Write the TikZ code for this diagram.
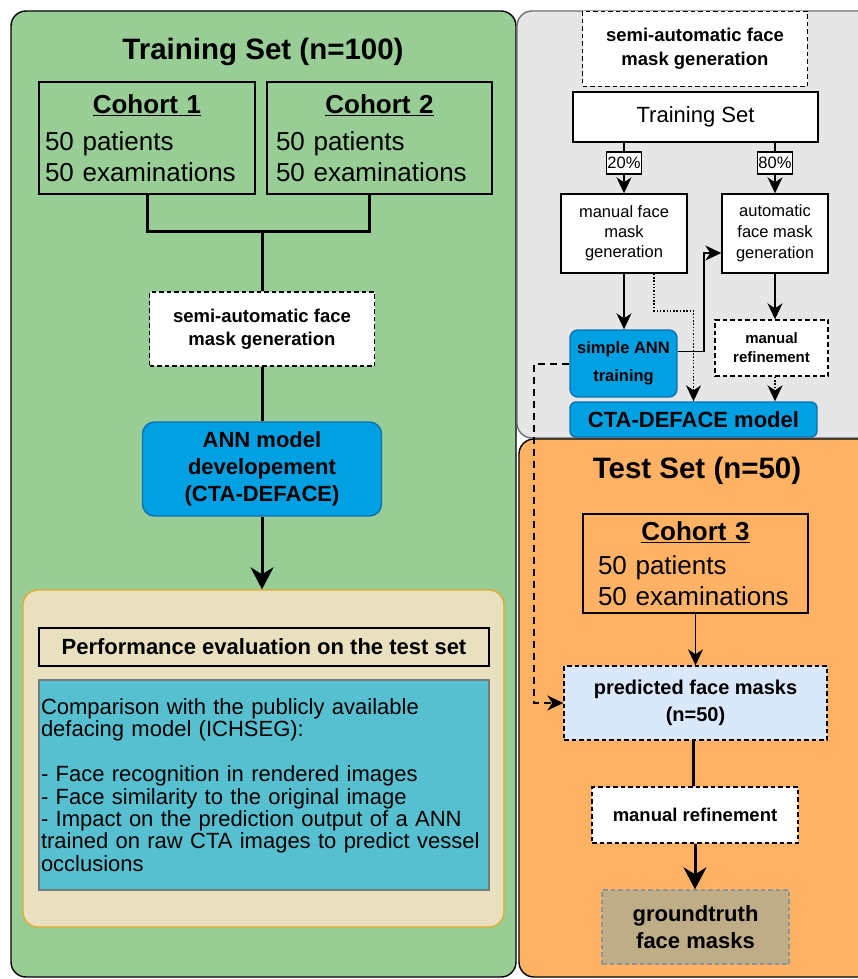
\documentclass[tikz,border=0pt]{standalone}
\usepackage{fontspec}
\setmainfont{Liberation Sans}
\usetikzlibrary{arrows.meta,positioning,calc}
\definecolor{meadow}{RGB}{152,206,150}
\definecolor{apricot}{RGB}{255,178,100}
\definecolor{mist}{RGB}{230,230,230}
\definecolor{ash}{RGB}{110,110,110}
\definecolor{azure}{RGB}{0,160,226}
\definecolor{deepazure}{RGB}{16,112,176}
\definecolor{sand}{RGB}{232,224,190}
\definecolor{gold}{RGB}{226,170,40}
\definecolor{lagoon}{RGB}{86,192,208}
\definecolor{slate}{RGB}{110,128,128}
\definecolor{ice}{RGB}{218,232,252}
\definecolor{khaki}{RGB}{191,173,135}
\definecolor{pebble}{RGB}{140,150,150}
\newcommand{\fsz}[2]{\fontsize{#1}{#2}\selectfont}
\tikzset{
  panel/.style={draw=#1,line width=1.4pt,rounded corners=15pt},
  panel/.default=black,
  plain box/.style={draw=black,line width=1.4pt,fill=#1,align=center,inner sep=0pt},
  plain box/.default=white,
  dash box/.style={draw=#1,line width=1.4pt,dash pattern=on 4.5pt off 3pt,fill=white,
    align=center,inner sep=0pt},
  dash box/.default=black,
  ann box/.style={draw=deepazure,line width=1.4pt,fill=azure,rounded corners=12pt,
    align=center,inner sep=0pt},
  cohort/.style={draw=black,line width=1.4pt,align=left,inner ysep=0pt,
    minimum height=112pt,font=\fsz{26}{31}},
  pct/.style={draw=black,line width=1.2pt,fill=white,inner sep=1pt,
    minimum height=22pt,font=\fsz{16.5}{18}},
  title/.style={anchor=base,font=\fsz{29.5}{34}\bfseries},
  flow/.style={-{Stealth[length=16pt,width=15pt,inset=5pt]},line width=1.6pt},
  dot flow/.style={flow,dash pattern=on 1.5pt off 1.8pt},
  dash flow/.style={flow,line width=2pt,dash pattern=on 7pt off 5pt},
  thick line/.style={line width=3pt},
  thick flow/.style={-{Stealth[length=22pt,width=23pt,inset=7pt]},line width=3pt},
}

\begin{document}
\begin{tikzpicture}[x=1pt,y=-1pt]
  \useasboundingbox (0,0) rectangle (858,979);
  % panels
  \draw[panel,fill=meadow] (11,11) rectangle (516,977);
  \draw[panel=ash,fill=mist] (517,11) rectangle (880,438);
  \draw[panel,fill=apricot] (519,439) rectangle (880,977);

  % training set
  \node[title] (trainT) at (263,60) {Training Set (n=100)};
  \node[cohort,inner xsep=6pt,text width=204pt] (cohA) at (147,138)
    {\hfill\underline{\textbf{Cohort 1}}\hfill\null\\[6pt]50 patients\\50 examinations};
  \node[cohort,inner xsep=9pt,text width=207pt] (cohB) at (379.5,138)
    {\hfill\underline{\textbf{Cohort 2}}\hfill\null\\[6pt]50 patients\\50 examinations};
  \coordinate (jn) at (262,231);
  \node[dash box,minimum width=225pt,minimum height=74pt,font=\fsz{18.5}{23}\bfseries]
    (semiL) at (262,329) {semi-automatic face\\mask generation};
  \node[ann box,minimum width=239pt,minimum height=94pt,font=\fsz{22}{27}\bfseries]
    (annL) at (262,469) {ANN model\\developement\\(CTA-DEFACE)};
  \node[draw=gold,fill=sand,line width=1.4pt,rounded corners=15pt,minimum width=481pt,
    minimum height=337pt,inner sep=0pt] (evalP) at (263.5,758.5) {};
  \node[draw=black,line width=1.4pt,minimum width=450pt,minimum height=38pt,inner sep=0pt,
    font=\fsz{22}{26}\bfseries] (perfT) at (264,647) {Performance evaluation on the test set};
  \node[draw=slate,fill=lagoon,line width=1.2pt,minimum height=210pt,text width=446pt,
    inner xsep=2pt,inner ysep=0pt,align=left,font=\fsz{22}{22.4}] (cmp) at (264,785)
    {Comparison with the publicly available\\defacing model (ICHSEG):\\[22.4pt]%
     - Face recognition in rendered images\\- Face similarity to the original image\\%
     - Impact on the prediction output of a ANN\\trained on raw CTA images to predict vessel\\%
     occlusions};

  % semi-automatic face mask generation
  \node[dash box,minimum width=225pt,minimum height=75pt,font=\fsz{18.5}{24}\bfseries]
    (semiR) at (695,49) {semi-automatic face\\mask generation};
  \node[plain box,minimum width=245pt,minimum height=50pt,font=\fsz{22}{26}]
    (trainR) at (695.5,117) {Training Set};
  \node[plain box,minimum width=126pt,minimum height=79pt,font=\fsz{16.5}{20}]
    (manF) at (624,233.5) {manual face\\mask\\generation};
  \node[plain box,minimum width=106pt,minimum height=79pt,font=\fsz{16.5}{21}]
    (autoF) at (775,233.5) {automatic\\face mask\\generation};
  \node[ann box,rounded corners=8pt,minimum width=107pt,minimum height=67pt,
    font=\fsz{16.5}{28}\bfseries] (annS) at (623.5,363.5) {simple ANN\\training};
  \node[dash box,minimum width=113pt,minimum height=56pt,font=\fsz{15}{19}\bfseries]
    (refS) at (771.5,348) {manual\\refinement};
  \node[ann box,rounded corners=6pt,minimum width=247pt,minimum height=35pt,
    font=\fsz{22}{26}\bfseries] (model) at (693.5,419.5) {CTA-DEFACE model};

  % test set
  \node[title] (testT) at (697,478) {Test Set (n=50)};
  \node[cohort,inner xsep=15pt,text width=195pt,minimum height=99pt] (coh3) at (695.5,563.5)
    {\hfill\underline{\textbf{Cohort 3}}\hfill\null\\[3pt]50 patients\\50 examinations};
  \node[dash box,fill=ice,minimum width=263pt,minimum height=74pt,font=\fsz{20}{27}\bfseries]
    (pred) at (695.5,703) {predicted face masks\\(n=50)};
  \node[dash box,minimum width=206pt,minimum height=56pt,font=\fsz{18.5}{22}\bfseries]
    (refB) at (695,815) {manual refinement};
  \node[dash box=pebble,fill=khaki,minimum width=187pt,minimum height=74pt,
    font=\fsz{22}{27}\bfseries] (gt) at (695.5,927) {groundtruth\\face masks};

  % connectors
  \draw[thick line] (cohA.south) |- (jn) -| ([xshift=-10pt]cohB.south);
  \draw[thick line] (jn) -- (semiL.north);
  \draw[thick line] (semiL.south) -- (annL.north);
  \draw[thick flow] (annL.south) -- (annL.south |- evalP.north);

  \draw[flow] (trainR.south -| manF) -- node[pct,pos=0.4]{20\%} (manF.north);
  \draw[flow] (trainR.south -| autoF) -- node[pct,pos=0.4]{80\%} (autoF.north);
  \draw[flow] (manF.south) -- (manF.south |- annS.north);
  \draw[dot flow] ([xshift=30pt]manF.south) -- ++(0,37) -| (model.north);
  \draw[flow] ([yshift=12pt]annS.east) -- ++(26,0) |- ([yshift=-19.5pt]autoF.west);
  \draw[flow] (autoF.south) -- (autoF.south |- refS.north);
  \draw[dot flow] (autoF.south |- refS.south) -- (autoF.south |- model.north);
  \draw[dash flow] (annS.west) -- ++(-35,0) |- (pred.west);

  \draw[flow] (coh3.south) -- (coh3.south |- pred.north);
  \draw[thick line] ([xshift=-2pt]pred.south) -- ([xshift=-2pt]pred.south |- refB.north);
  \draw[thick flow] (refB.south) -- (refB.south |- gt.north);
\end{tikzpicture}
\end{document}
